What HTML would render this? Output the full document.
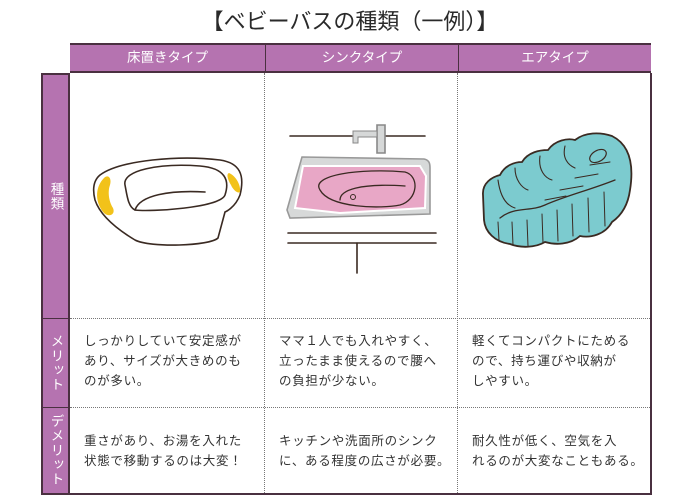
<!DOCTYPE html>
<html><head><meta charset="utf-8"><style>
body{margin:0;width:700px;height:500px;background:#fff;position:relative;overflow:hidden;font-family:"Liberation Sans","Noto Sans CJK JP",sans-serif;color:#333}
.a{position:absolute}
.title{left:0;width:700px;top:4px;text-align:center;font-size:22px;color:#2a2a2a;letter-spacing:0px}
.hd{top:43px;height:30px;background:#b573b0;color:#fff;font-size:13.5px;text-align:center;line-height:30px;box-sizing:border-box;border-top:2px solid #4a3040;border-bottom:2px solid #4a3040}
.lab{left:41px;width:29px;background:#b573b0;color:#fff;font-size:13.5px;box-sizing:border-box;border-left:2px solid #4a3040;border-right:2px solid #4a3040;display:flex;align-items:center;justify-content:center}
.v{writing-mode:vertical-rl;letter-spacing:1px}
.t{font-size:12.5px;line-height:20px;color:#333;letter-spacing:0.7px}
.vd{border-left:1px dotted #777;width:0}
.hdl{border-top:1px dotted #777;height:0}
</style></head><body>
<div class="a title">【ベビーバスの種類（一例）】</div>
<div class="a hd" style="left:70px;width:581px;border-left:2px solid #4a3040;border-right:2px solid #4a3040"></div>
<div class="a hd" style="left:70px;width:195px;border:none;top:45px;height:26px;line-height:26px">床置きタイプ</div>
<div class="a hd" style="left:265px;width:193px;border:none;top:45px;height:26px;line-height:26px;border-left:1px solid #4a3040">シンクタイプ</div>
<div class="a hd" style="left:458px;width:193px;border:none;top:45px;height:26px;line-height:26px;border-left:1px solid #4a3040">エアタイプ</div>
<div class="a lab" style="top:73px;height:245px;border-top:2px solid #4a3040"><span class="v">種類</span></div>
<div class="a lab" style="top:318px;height:89px;border-top:1px solid #4a3040"><span class="v">メリット</span></div>
<div class="a lab" style="top:407px;height:88px;border-top:1px solid #4a3040;border-bottom:2px solid #4a3040"><span class="v">デメリット</span></div>
<div class="a" style="left:650px;top:73px;height:422px;border-left:2px solid #4a3040"></div>
<div class="a" style="left:41px;top:493px;width:611px;border-top:2px solid #4a3040"></div>
<div class="a vd" style="left:264px;top:73px;height:420px"></div>
<div class="a vd" style="left:457px;top:73px;height:420px"></div>
<div class="a hdl" style="left:70px;top:318px;width:580px"></div>
<div class="a hdl" style="left:70px;top:407px;width:580px"></div>

<svg class="a" style="left:0;top:0" width="700" height="500" fill="none" stroke="#3a2a22" stroke-width="1.6" stroke-linecap="round">
<!-- floor tub -->
<path d="M100,175 C120,160 180,155 220,160 C240,163 245,175 240,195 C235,208 225,212 225,212 L218,238 C210,246 150,248 135,240 C115,228 100,215 95,200 C92,188 94,180 100,175Z" fill="#fff"/>
<path d="M125,185 C122,170 160,163 200,166 C225,168 230,180 225,195 C220,208 150,212 135,210 C128,207 127,195 125,185Z"/>
<path d="M135,210 C140,195 170,190 205,192"/>
<path d="M104,178 C96,186 94,200 103,212 C108,218 116,215 113,208 C108,200 108,190 110,185 C112,178 108,174 104,178Z" fill="#f2c21a" stroke="none"/>
<path d="M229,173 C236,176 241,185 240,192 C238,194 233,190 231,185 C228,180 226,174 229,173Z" fill="#f2c21a" stroke="none"/>
<!-- sink -->
<line x1="290" y1="136" x2="352" y2="136"/><line x1="385" y1="136" x2="425" y2="136"/>
<path d="M377,125 L377,153 L385,153 L385,125 Z" fill="#d6d8d8" stroke="#888"/>
<path d="M353,131 L377,131 L377,137 L358,137 L358,143 L353,143Z" fill="#d6d8d8" stroke="#888" stroke-width="1"/>
<path d="M302,157 L424,159 C429,160 430,163 430,168 L430,214 L290,218 L287,210 Z" fill="#d7d9d9" stroke="#999"/>
<path d="M303,166 L420,166 L426,176 L425,208 L340,213 L295,208 Z" fill="#e8a7c6" stroke="#fff" stroke-width="2"/>
<path d="M320,190 C310,175 360,168 405,172 C420,176 418,200 400,205 C380,209 330,208 320,190Z" stroke-width="1.3"/>
<path d="M340,200 C340,190 360,183 405,186" stroke-width="1.3"/>
<circle cx="353" cy="197" r="2.5" stroke-width="1"/>
<line x1="288" y1="233" x2="436" y2="233"/><line x1="288" y1="243" x2="436" y2="243"/>
<line x1="357" y1="243" x2="357" y2="273"/>
<!-- air tub -->
<path d="M483,195 C482,183 492,177 500,175 C505,165 515,162 522,162 C528,152 540,150 548,150 C555,140 568,138 575,140 C585,132 600,132 612,136 C630,145 634,165 630,190 C628,205 622,215 612,222 C605,235 590,238 580,236 C570,245 555,245 545,242 C535,248 520,248 510,244 C495,242 485,232 484,220 Z" fill="#7ccbcf" stroke="#3a2a22" stroke-width="1.8"/>
<path d="M498,180 C500,195 505,205 515,208 M515,168 C515,180 522,188 528,190 M540,156 C538,170 545,178 552,180 M565,146 C562,158 568,165 575,168" stroke-width="1.1"/>
<path d="M500,218 C515,206 530,212 545,205 C565,196 590,190 615,180" stroke-width="1.3"/>
<path d="M590,165 L610,162 M575,178 L598,174 M560,190 L583,186 M545,200 L566,196" stroke-width="1.1"/>
<ellipse cx="598" cy="156" rx="9" ry="5.5" transform="rotate(-30 598 156)" stroke-width="1.2"/>
<path d="M498,222 L499,240 M512,222 L513,245 M527,220 L528,246 M542,214 L543,243 M557,210 L558,241 M572,204 L573,236 M588,198 L589,232 M604,192 L605,226" stroke-width="1"/>
</svg>

<div class="a t" style="left:84px;top:331px">しっかりしていて安定感が<br>あり、サイズが大きめのも<br>のが多い。</div>
<div class="a t" style="left:279px;top:331px">ママ１人でも入れやすく、<br>立ったまま使えるので腰へ<br>の負担が少ない。</div>
<div class="a t" style="left:472px;top:331px">軽くてコンパクトにためる<br>ので、持ち運びや収納が<br>しやすい。</div>
<div class="a t" style="left:84px;top:431px">重さがあり、お湯を入れた<br>状態で移動するのは大変！</div>
<div class="a t" style="left:279px;top:431px">キッチンや洗面所のシンク<br>に、ある程度の広さが必要。</div>
<div class="a t" style="left:472px;top:431px">耐久性が低く、空気を入<br>れるのが大変なこともある。</div>
</body></html>
